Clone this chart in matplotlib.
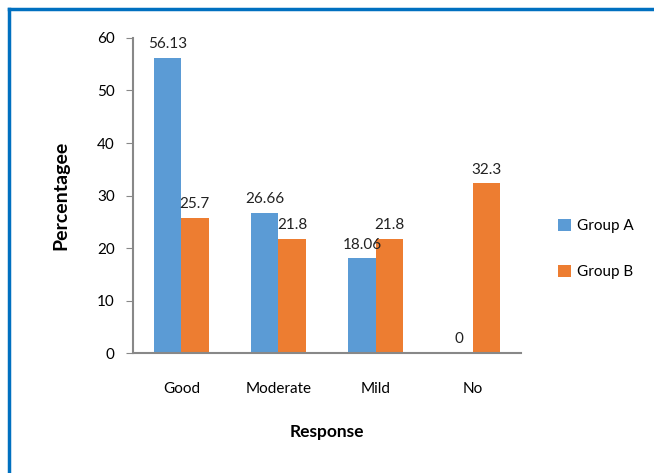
import numpy as np
import matplotlib.pyplot as plt
from matplotlib.lines import Line2D

plt.rcParams['font.family'] = ['Lato', 'DejaVu Sans']

categories = ['Good', 'Moderate', 'Mild', 'No']
group_a = [56.13, 26.66, 18.06, 0]
group_b = [25.7, 21.8, 21.8, 32.3]
a_labels = ['56.13', '26.66', '18.06', '0']
b_labels = ['25.7', '21.8', '21.8', '32.3']

BLUE = '#5B9BD5'
ORANGE = '#ED7D31'

fig = plt.figure(figsize=(6.54, 4.73), dpi=100)
ax = fig.add_axes([0.203, 0.253, 0.594, 0.667])

x = np.arange(len(categories))
w = 0.28
bars_a = ax.bar(x - w / 2, group_a, w, color=BLUE, label='Group A')
bars_b = ax.bar(x + w / 2, group_b, w, color=ORANGE, label='Group B')

for bars, labels in [(bars_a, a_labels), (bars_b, b_labels)]:
    for b, lab in zip(bars, labels):
        ax.text(b.get_x() + b.get_width() / 2, b.get_height() + 1.3, lab,
                ha='center', va='bottom', fontsize=11, color='#222222')

ax.set_xlim(-0.5, len(categories) - 0.5)
ax.set_ylim(0, 60)
ax.set_yticks(range(0, 61, 10))
ax.set_xticks(x)
ax.set_xticklabels(categories)

for side in ['top', 'right']:
    ax.spines[side].set_visible(False)
for side in ['left', 'bottom']:
    ax.spines[side].set_color('#888888')
    ax.spines[side].set_linewidth(1.5)
ax.tick_params(axis='y', direction='out', length=5, color='#888888',
               labelsize=11, pad=8)
ax.tick_params(axis='x', length=0, labelsize=11, pad=21)

ax.set_ylabel('Percentagee', fontsize=14, fontweight='bold', labelpad=20)
ax.set_xlabel('Response', fontsize=12.5, fontweight='bold', labelpad=20)

ax.legend(loc='center left', bbox_to_anchor=(1.06, 0.33), frameon=False,
          fontsize=11, handlelength=0.8, handleheight=0.8,
          handletextpad=0.4, labelspacing=2.1)

# frame lines along the top and left edges
fig.add_artist(Line2D([0.014, 1.0], [0.981, 0.981], color='#0070C0', lw=2.5))
fig.add_artist(Line2D([0.014, 0.014], [0.0, 0.981], color='#0070C0', lw=2.5))

fig.savefig('out.png', dpi=100)
